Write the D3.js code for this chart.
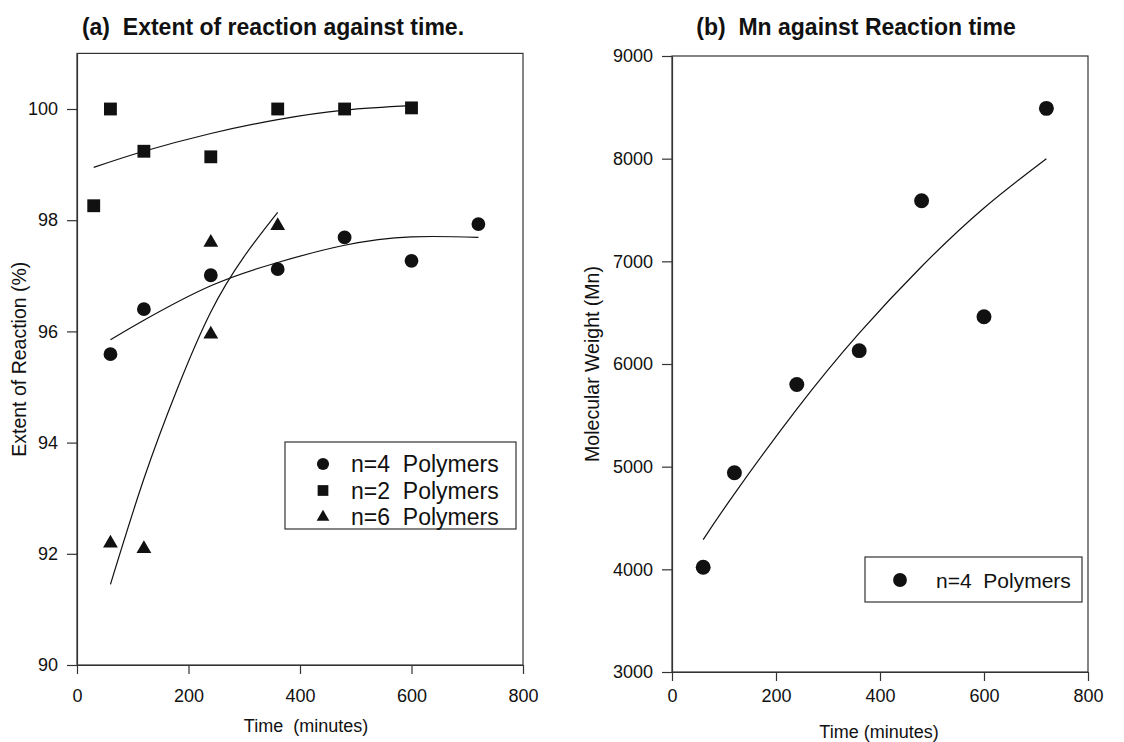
<!DOCTYPE html>
<html>
<head>
<meta charset="utf-8">
<script src="https://cdn.jsdelivr.net/npm/d3@7"></script>
<style>
  body { margin: 0; background: #fff; }
  svg { display: block; font-family: "Liberation Sans", Arial, sans-serif; }
</style>
</head>
<body>
<figure style="margin:0"></figure>
<script>
// --- data ---
// panel (a): extent of reaction (%) vs time (minutes)
const timeN4 = [60, 120, 240, 360, 480, 600, 720];
const extentN4 = [95.59, 96.40, 97.01, 97.12, 97.69, 97.27, 97.93];
const timeN2 = [30, 60, 120, 240, 360, 480, 600];
const extentN2 = [98.26, 100.0, 99.24, 99.14, 100.0, 100.0, 100.02];
const timeN6 = [60, 120, 240, 240, 360];
const extentN6 = [92.19, 92.09, 97.60, 95.95, 97.90];

// fitted curves as drawn in panel (a)
const fitTimeN2 = [30, 120, 240, 360, 480, 600];
const fitN2 = [98.95, 99.24, 99.56, 99.81, 99.98, 100.06];
const fitTimeN4 = [60, 120, 240, 360, 480, 600, 720];
const fitN4 = [95.85, 96.20, 96.82, 97.24, 97.55, 97.70, 97.69];
const fitTimeN6 = [60, 120, 180, 240, 300, 360];
const fitN6 = [91.45, 93.35, 94.97, 96.35, 97.35, 98.14];

// panel (b): Mn vs time
const timeMn = [60, 120, 240, 360, 480, 600, 720];
const mnN4 = [4020, 4940, 5800, 6130, 7590, 6460, 8490];
const fitTimeMn = [60, 120, 240, 360, 480, 600, 720];
const fitMn = [4290, 4735, 5560, 6300, 6950, 7520, 8000];

const xTicks = [0, 200, 400, 600, 800];
const yTicksA = [90, 92, 94, 96, 98, 100];
const yTicksB = [3000, 4000, 5000, 6000, 7000, 8000, 9000];

const legendA = ['n=4  Polymers', 'n=2  Polymers', 'n=6  Polymers'];
const legendB = ['n=4  Polymers'];

(() => {
  const width = 1124;
  const height = 742;
  const ink = '#111';

  const svg = d3.select('figure').append('svg')
    .attr('width', width)
    .attr('height', height);

  const zip = (xs, ys) => xs.map((x, i) => ({t: x, v: ys[i]}));

  const symCircle = d3.symbol().type(d3.symbolCircle);
  const symSquare = d3.symbol().type(d3.symbolSquare);
  const symTriangle = d3.symbol().type(d3.symbolTriangle);

  function panel(opt) {
    const x = d3.scaleLinear().domain([0, 800]).range(opt.xr);
    const y = d3.scaleLinear().domain(opt.yd).range(opt.yr);
    const g = svg.append('g');

    // frame (top & right)
    g.append('rect')
      .attr('x', x(0)).attr('y', y(opt.yd[1]))
      .attr('width', x(800) - x(0)).attr('height', y(opt.yd[0]) - y(opt.yd[1]))
      .attr('fill', 'none').attr('stroke', '#333').attr('stroke-width', 1.2);

    const xAxis = d3.axisBottom(x).tickValues(xTicks).tickSize(9)
      .tickSizeOuter(0).tickPadding(opt.xPad).tickFormat(d3.format('d'));
    const yAxis = d3.axisLeft(y).tickValues(opt.yTicks).tickSize(10)
      .tickSizeOuter(0).tickPadding(9).tickFormat(d3.format('d'));

    const xg = g.append('g').attr('transform', `translate(0,${y(opt.yd[0])})`).call(xAxis);
    const yg = g.append('g').attr('transform', `translate(${x(0)},0)`).call(yAxis);
    [xg, yg].forEach(a => {
      a.attr('font-size', null).attr('font-family', null);
      a.selectAll('path, line').attr('stroke', '#333').attr('stroke-width', 1.2);
      a.selectAll('text').attr('fill', ink).style('font-size', '18px');
    });

    // title
    svg.append('text')
      .attr('x', opt.titleX).attr('y', 35)
      .attr('text-anchor', 'middle')
      .style('font-size', '23px').style('font-weight', 'bold')
      .style('white-space', 'pre')
      .attr('fill', ink)
      .text(opt.title);

    // axis titles
    svg.append('text')
      .attr('x', opt.xLabelX).attr('y', opt.xLabelY)
      .attr('text-anchor', 'middle')
      .style('font-size', '18px').attr('fill', ink)
      .style('white-space', 'pre')
      .text(opt.xLabel);
    svg.append('text')
      .attr('transform', `translate(${opt.yLabelX},${(opt.yr[0] + opt.yr[1]) / 2}) rotate(-90)`)
      .attr('text-anchor', 'middle')
      .style('font-size', '19.5px').attr('fill', ink)
      .text(opt.yLabel);

    return {g, x, y};
  }

  // ---------- panel (a) ----------
  const A = panel({
    xr: [77, 523], yd: [90, 101], yr: [665, 53.4], yTicks: yTicksA, xPad: 15,
    title: '(a)  Extent of reaction against time.', titleX: 273,
    xLabel: 'Time  (minutes)', xLabelX: 306, xLabelY: 732,
    yLabel: 'Extent of Reaction (%)', yLabelX: 26
  });

  const lineA = d3.line().curve(d3.curveNatural)
    .x(d => A.x(d.t)).y(d => A.y(d.v));

  [[fitTimeN2, fitN2], [fitTimeN4, fitN4], [fitTimeN6, fitN6]].forEach(([t, v]) => {
    A.g.append('path')
      .datum(zip(t, v))
      .attr('d', lineA)
      .attr('fill', 'none').attr('stroke', ink).attr('stroke-width', 1.2);
  });

  const seriesA = [
    {pts: zip(timeN4, extentN4), sym: symCircle.size(150)},
    {pts: zip(timeN2, extentN2), sym: symSquare.size(165)},
    {pts: zip(timeN6, extentN6), sym: symTriangle.size(95)}
  ];
  seriesA.forEach(s => {
    const p = s.sym();
    A.g.selectAll(null).data(s.pts).enter().append('path')
      .attr('d', p)
      .attr('transform', d => `translate(${A.x(d.t)},${A.y(d.v)})`)
      .attr('fill', ink);
  });

  // legend (a)
  const legA = svg.append('g');
  legA.append('rect')
    .attr('x', 285).attr('y', 442).attr('width', 231).attr('height', 87)
    .attr('fill', '#fff').attr('stroke', '#333').attr('stroke-width', 1.2);
  const legSyms = [
    d3.symbol().type(d3.symbolCircle).size(115)(),
    d3.symbol().type(d3.symbolSquare).size(115)(),
    d3.symbol().type(d3.symbolTriangle).size(70)()
  ];
  legendA.forEach((label, i) => {
    const cy = 464 + i * 26.5;
    legA.append('path').attr('d', legSyms[i])
      .attr('transform', `translate(323,${cy})`).attr('fill', ink);
    legA.append('text')
      .attr('x', 351).attr('y', cy).attr('dy', '0.36em')
      .style('font-size', '23px').style('white-space', 'pre').attr('fill', ink)
      .text(label);
  });

  // ---------- panel (b) ----------
  const B = panel({
    xr: [672, 1088], yd: [3000, 9000], yr: [672, 56], yTicks: yTicksB, xPad: 8,
    title: '(b)  Mn against Reaction time', titleX: 856,
    xLabel: 'Time (minutes)', xLabelX: 879, xLabelY: 738,
    yLabel: 'Molecular Weight (Mn)', yLabelX: 599
  });

  const lineB = d3.line().curve(d3.curveNatural)
    .x(d => B.x(d.t)).y(d => B.y(d.v));
  B.g.append('path')
    .datum(zip(fitTimeMn, fitMn))
    .attr('d', lineB)
    .attr('fill', 'none').attr('stroke', ink).attr('stroke-width', 1.2);

  B.g.selectAll(null).data(zip(timeMn, mnN4)).enter().append('path')
    .attr('d', d3.symbol().type(d3.symbolCircle).size(175)())
    .attr('transform', d => `translate(${B.x(d.t)},${B.y(d.v)})`)
    .attr('fill', ink);

  const legB = svg.append('g');
  legB.append('rect')
    .attr('x', 865).attr('y', 557).attr('width', 217).attr('height', 45)
    .attr('fill', '#fff').attr('stroke', '#333').attr('stroke-width', 1.2);
  legendB.forEach(label => {
    legB.append('path').attr('d', d3.symbol().type(d3.symbolCircle).size(150)())
      .attr('transform', 'translate(900,580)').attr('fill', ink);
    legB.append('text')
      .attr('x', 936).attr('y', 580).attr('dy', '0.36em')
      .style('font-size', '21px').style('white-space', 'pre').attr('fill', ink)
      .text(label);
  });
})();
</script>
</body>
</html>
